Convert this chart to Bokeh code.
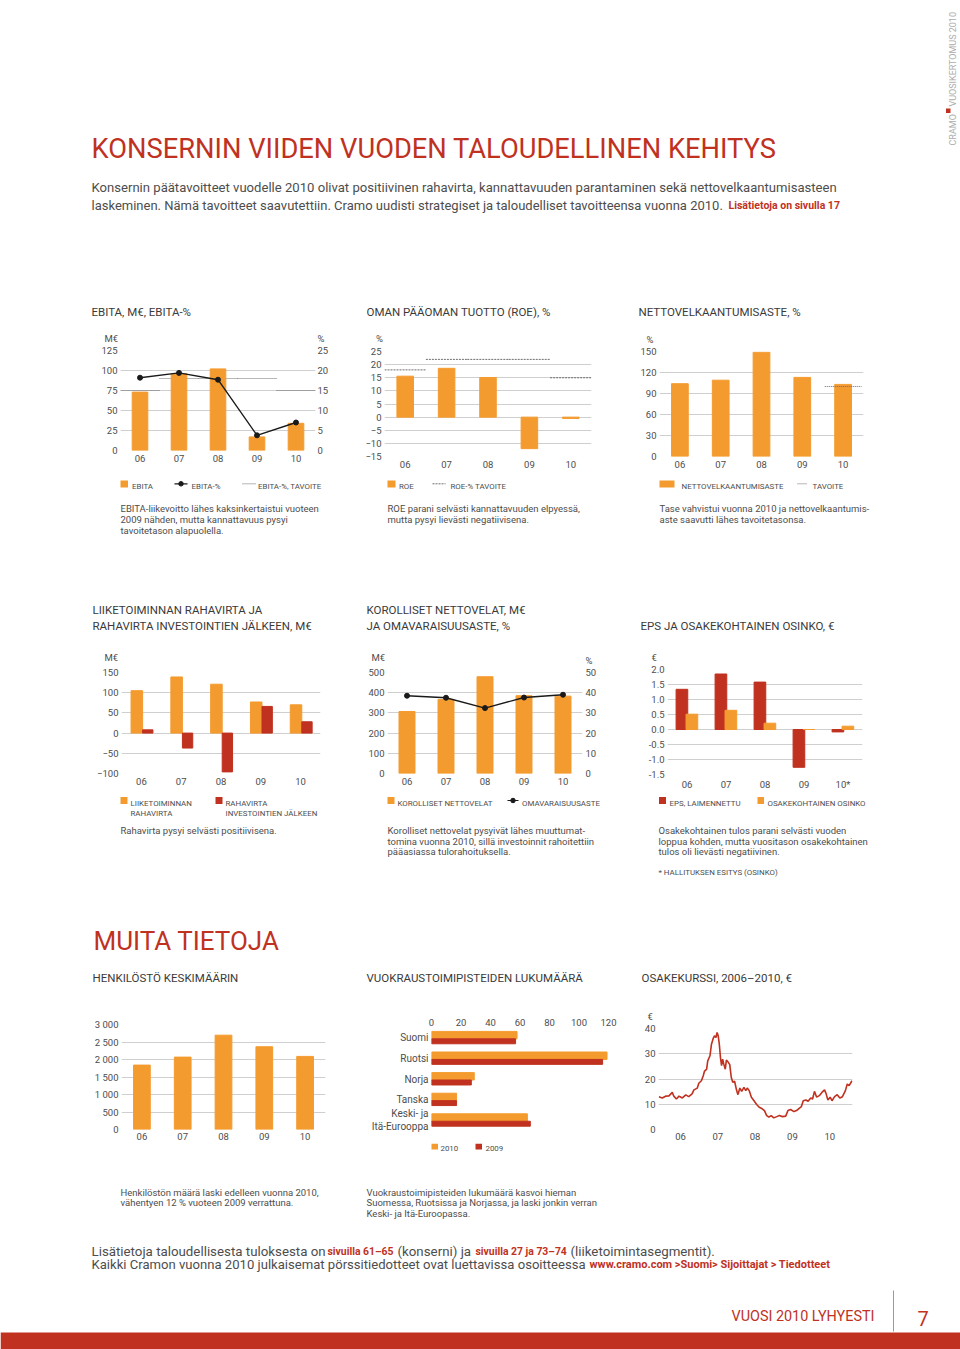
import math
from bokeh.plotting import figure
from bokeh.models import Range1d, LinearAxis, FixedTicker, Spacer
from bokeh.layouts import column, row
from bokeh.core.properties import value
from bokeh.embed import file_html
from bokeh.resources import INLINE

FONT = "Roboto"
ORANGE = "#f49b2f"
RED = "#c0311f"
GRID = "#cfcfcf"
TXT = "#4d4d4d"
HEAD = "#3a3a3a"
DOT = "#6e6e6e"
BLACK = "#1a1a1a"

# ---------------- data ----------------
year_labels = ["06", "07", "08", "09", "10"]
eps_year_labels = ["06", "07", "08", "09", "10*"]
ebita = [73, 96, 102, 17, 34]
ebita_pct = [18.2, 19.4, 17.7, 3.8, 7.0]
ebita_pct_target = [15, 18, 18, 18, 15]
roe = [15.6, 18.6, 15.1, -12.0, -0.5]
roe_target = [18, 22, 22, 22, 15]
gearing = [104, 109, 149, 113, 103]
gearing_target = [None, None, None, None, 100]
operating_cf = [105, 139, 121, 77, 70]
cf_after_investments = [8, -37, -96, 66, 28]
net_debt = [307, 366, 479, 385, 383]
equity_ratio = [38.5, 37.5, 32.4, 37.6, 39.0]
eps_diluted = [1.34, 1.85, 1.58, -1.26, -0.08]
dividend = [0.51, 0.64, 0.21, 0.0, 0.11]
personnel = [1840, 2068, 2695, 2365, 2088]
depot_regions = ["Suomi", "Ruotsi", "Norja", "Tanska", "Keski- ja\nItä-Eurooppa"]
depots_2010 = [58, 119, 29, 17, 65]
depots_2009 = [57, 116, 27, 17, 67]
share_year = [2005.92, 2006.01, 2006.10, 2006.19, 2006.28, 2006.32, 2006.39, 2006.46, 2006.55, 2006.64,
              2006.72, 2006.81, 2006.86, 2006.95, 2006.99, 2007.06, 2007.11, 2007.14, 2007.20, 2007.23,
              2007.29, 2007.33, 2007.38, 2007.41, 2007.45, 2007.48, 2007.51, 2007.54, 2007.57, 2007.60,
              2007.63, 2007.66, 2007.70, 2007.73, 2007.78, 2007.82, 2007.86, 2007.90, 2007.95, 2008.00,
              2008.04, 2008.09, 2008.14, 2008.20, 2008.25, 2008.29, 2008.34, 2008.40, 2008.47, 2008.54,
              2008.61, 2008.69, 2008.75, 2008.81, 2008.87, 2008.93, 2009.00, 2009.08, 2009.15, 2009.23,
              2009.32, 2009.38, 2009.45, 2009.54, 2009.61, 2009.68, 2009.74, 2009.79, 2009.86, 2009.92,
              2009.99, 2010.04, 2010.09, 2010.15, 2010.22, 2010.29, 2010.36, 2010.40, 2010.45, 2010.51,
              2010.56, 2010.63, 2010.70, 2010.77, 2010.84, 2010.92, 2010.97, 2011.02, 2011.08, 2011.10]
share_eur = [13.0, 12.5, 13.2, 13.3, 14.7, 13.2, 12.1, 13.2, 12.5, 13.7,
             13.0, 14.1, 15.7, 16.4, 18.3, 19.3, 21.3, 23.0, 23.9, 27.2,
             29.2, 33.8, 36.2, 37.1, 36.4, 38.4, 37.1, 33.8, 28.6, 25.3,
             27.9, 25.9, 23.9, 27.5, 26.6, 25.7, 20.7, 18.7, 19.1, 15.7,
             13.8, 16.4, 15.1, 16.7, 15.4, 16.4, 15.4, 12.8, 11.4, 9.9,
             8.8, 8.2, 7.5, 5.5, 4.9, 5.5, 4.6, 5.1, 5.5, 5.1,
             5.3, 7.5, 7.9, 7.1, 7.5, 8.4, 9.1, 11.4, 11.7, 11.2,
             12.5, 12.1, 15.1, 12.8, 13.4, 14.7, 15.7, 14.3, 11.7, 12.8,
             11.4, 13.0, 13.8, 12.5, 13.0, 15.4, 18.0, 17.4, 18.9, 19.3]
share_tick_years = [2006.5, 2007.5, 2008.5, 2009.5, 2010.5]

idx = list(range(len(year_labels)))

PAGE_W = 960
CAP = 9.5      # caption font
LEG = 7.9      # legend font
TTL = 11.5     # chart title font


# ---------------- helpers ----------------
def style_axis(ax, size="9.5px", standoff=3):
    ax.axis_line_color = None
    ax.major_tick_line_color = None
    ax.minor_tick_line_color = None
    ax.major_tick_out = 0
    ax.major_tick_in = 0
    ax.minor_tick_out = 0
    ax.minor_tick_in = 0
    ax.major_label_standoff = standoff
    ax.major_label_text_font = FONT
    ax.major_label_text_font_size = size
    ax.major_label_text_color = TXT


def chart(fig_box, frame_box, x_range, y_range, **kw):
    fx0, fy0, fx1, fy1 = fig_box
    x0, y0, x1, y1 = frame_box
    p = figure(width=fx1 - fx0, height=fy1 - fy0, x_range=x_range, y_range=y_range,
               toolbar_location=None, output_backend="svg", title=None,
               min_border_left=x0 - fx0, min_border_right=fx1 - x1,
               min_border_top=y0 - fy0, min_border_bottom=fy1 - y1, **kw)
    p.outline_line_color = None
    p.background_fill_color = "white"
    p.border_fill_color = "white"
    for ax in p.axis:
        style_axis(ax)
    p.xgrid.visible = False
    p.ygrid.grid_line_color = GRID
    return p


def set_y_ticks(p, ticks, overrides=None):
    t = FixedTicker(ticks=ticks)
    p.yaxis.ticker = t
    p.ygrid.ticker = t
    if overrides:
        p.yaxis.major_label_overrides = overrides


def set_cat_x(p, labels, standoff=4):
    p.xaxis.ticker = FixedTicker(ticks=list(range(len(labels))))
    p.xaxis.major_label_overrides = {i: s for i, s in enumerate(labels)}
    p.xaxis.major_label_standoff = standoff


class Band:
    """A text-only figure whose data coordinates are page pixels."""
    def __init__(self, x0, top, w, h):
        self.x0, self.top = x0, top
        p = figure(width=w, height=h, x_range=Range1d(0, w), y_range=Range1d(h, 0),
                   toolbar_location=None, output_backend="svg", title=None,
                   x_axis_type=None, y_axis_type=None, min_border=0)
        p.outline_line_color = None
        p.background_fill_color = "white"
        p.border_fill_color = "white"
        self.p = p

    def t(self, x, y, s, size, color, bold=False, align="left", angle=0.0):
        self.p.text(x=[x - self.x0], y=[y - self.top], text=[s], text_font=value(FONT),
                    text_font_size=f"{size}px", text_color=color, text_align=align,
                    text_baseline="alphabetic", text_font_style="bold" if bold else "normal",
                    angle=angle)

    def box(self, x0, x1, y0, y1, color):
        self.p.quad(left=[x0 - self.x0], right=[x1 - self.x0], top=[y0 - self.top],
                    bottom=[y1 - self.top], fill_color=color, line_color=None)

    def hline(self, x0, x1, y, color, width=1.0, dash="solid"):
        self.p.line([x0 - self.x0, x1 - self.x0], [y - self.top, y - self.top],
                    line_color=color, line_width=width, line_dash=dash)

    def vline(self, x, y0, y1, color, width=1.0):
        self.p.line([x - self.x0, x - self.x0], [y0 - self.top, y1 - self.top],
                    line_color=color, line_width=width)

    def dot(self, x, y, size, color):
        self.p.scatter([x - self.x0], [y - self.top], size=size, color=color)


def iso(item):
    # wrap a figure/layout in its own column so that rows do not align plot frames
    return column([item], spacing=0)


def chart_row(h, items):
    children = []
    x = 0
    for left, fig, w in items:
        if left > x:
            children.append(Spacer(width=left - x, height=h))
        children.append(fig)
        x = left + w
    if x < PAGE_W:
        children.append(Spacer(width=PAGE_W - x, height=h))
    return row(children, spacing=0)


# ---------------- bands (page y) ----------------
H_TOP, H_H = 0, 344
C1_TOP, C1_H = 344, 130
T1_TOP, T1_H = 474, 190
C2_TOP, C2_H = 664, 128
T2_TOP, T2_H = 792, 208
C3_TOP, C3_H = 1000, 143
U3_H = 22
T3_TOP, T3_H = 1143, 206

# ---------------- header ----------------
hb = Band(0, H_TOP, PAGE_W, H_H)
hb.t(91, 148, "KONSERNIN VIIDEN VUODEN TALOUDELLINEN KEHITYS", 27.3, RED)
hb.t(91, 187, "Konsernin päätavoitteet vuodelle 2010 olivat positiivinen rahavirta, kannattavuuden parantaminen sekä nettovelkaantumisasteen", 13.1, TXT)
hb.t(91, 205, "laskeminen. Nämä tavoitteet saavutettiin. Cramo uudisti strategiset ja taloudelliset tavoitteensa vuonna 2010.", 13.0, TXT)
hb.t(728, 205, "Lisätietoja on sivulla 17", 10.5, RED, bold=True)
hb.t(952, 145, "CRAMO", 9, "#ababab", angle=math.pi / 2)
hb.box(945.5, 950, 108, 112.5, RED)
hb.t(952, 106, "VUOSIKERTOMUS 2010", 9, "#ababab", angle=math.pi / 2)
hb.t(91, 311, "EBITA, M€, EBITA-%", TTL, HEAD)
hb.t(366, 311, "OMAN PÄÄOMAN TUOTTO (ROE), %", TTL, HEAD)
hb.t(638, 311, "NETTOVELKAANTUMISASTE, %", TTL, HEAD)
hb.t(104, 338.4, "M€", 9.5, TXT)
hb.t(317, 338.4, "%", 9.5, TXT)
hb.t(375.5, 338.4, "%", 9.5, TXT)
hb.t(646, 339, "%", 9.5, TXT)

# ---------------- chart 1: EBITA ----------------
fb1, fr1 = (90, C1_TOP, 340, C1_TOP + C1_H), (120, 350, 315, 450)
p1 = chart(fb1, fr1, Range1d(-0.5, 4.5), Range1d(0, 125))
p1.extra_y_ranges = {"pct": Range1d(0, 25)}
set_y_ticks(p1, [0, 25, 50, 75, 100, 125])
set_cat_x(p1, year_labels)
p1.segment(x0=[i - 0.5 for i in idx], x1=[i + 0.5 for i in idx], y0=ebita_pct_target,
           y1=ebita_pct_target, y_range_name="pct", line_color=DOT, line_dash="1 1", line_width=1)
p1.vbar(x=idx, top=ebita, width=0.4, color=ORANGE)
p1.line(idx, ebita_pct, y_range_name="pct", line_color=BLACK, line_width=1.4)
p1.scatter(idx, ebita_pct, y_range_name="pct", size=5, color=BLACK)
ax1 = LinearAxis(y_range_name="pct", ticker=FixedTicker(ticks=[0, 5, 10, 15, 20, 25]))
style_axis(ax1, standoff=2)
p1.add_layout(ax1, "right")

# ---------------- chart 2: ROE ----------------
fb2, fr2 = (355, C1_TOP, 615, C1_TOP + C1_H), (384, 351, 591, 456)
p2 = chart(fb2, fr2, Range1d(-0.5, 4.5), Range1d(-15, 25))
set_y_ticks(p2, [-15, -10, -5, 0, 5, 10, 15, 20, 25])
set_cat_x(p2, year_labels)
p2.vbar(x=idx, top=roe, width=0.4, color=ORANGE)
p2.segment(x0=[i - 0.5 for i in idx], x1=[i + 0.5 for i in idx], y0=roe_target,
           y1=roe_target, line_color=DOT, line_dash="2 1", line_width=1)

# ---------------- chart 3: gearing ----------------
fb3, fr3 = (630, C1_TOP, 880, C1_TOP + C1_H), (659, 351, 863, 456)
p3 = chart(fb3, fr3, Range1d(-0.5, 4.5), Range1d(0, 150))
set_y_ticks(p3, [0, 30, 60, 90, 120, 150])
set_cat_x(p3, year_labels)
p3.vbar(x=idx, top=gearing, width=0.41, color=ORANGE)
gt = [(i, v) for i, v in zip(idx, gearing_target) if v is not None]
p3.segment(x0=[i - 0.45 for i, v in gt], x1=[i + 0.45 for i, v in gt], y0=[v for i, v in gt],
           y1=[v for i, v in gt], line_color=DOT, line_dash="1 1", line_width=1)

# ---------------- row 2 charts ----------------
fb4, fr4 = (90, C2_TOP, 340, C2_TOP + C2_H), (121, 672, 320, 773)
p4 = chart(fb4, fr4, Range1d(-0.5, 4.5), Range1d(-100, 150))
set_y_ticks(p4, [-100, -50, 0, 50, 100, 150])
set_cat_x(p4, year_labels)
p4.vbar(x=[i - 0.115 for i in idx], top=operating_cf, width=0.29, color=ORANGE)
p4.vbar(x=[i + 0.16 for i in idx], top=cf_after_investments, width=0.26, color=RED)

fb5, fr5 = (355, C2_TOP, 615, C2_TOP + C2_H), (387, 672, 582, 773)
p5 = chart(fb5, fr5, Range1d(-0.5, 4.5), Range1d(0, 500))
p5.extra_y_ranges = {"pct": Range1d(0, 50)}
set_y_ticks(p5, [0, 100, 200, 300, 400, 500])
set_cat_x(p5, year_labels)
p5.vbar(x=idx, top=net_debt, width=0.41, color=ORANGE)
p5.line(idx, equity_ratio, y_range_name="pct", line_color=BLACK, line_width=1.4)
p5.scatter(idx, equity_ratio, y_range_name="pct", size=5, color=BLACK)
ax5 = LinearAxis(y_range_name="pct", ticker=FixedTicker(ticks=[0, 10, 20, 30, 40, 50]))
style_axis(ax5, standoff=3)
p5.add_layout(ax5, "right")

fb6, fr6 = (630, C2_TOP, 880, C2_TOP + C2_H), (667, 669, 862, 775)
p6 = chart(fb6, fr6, Range1d(-0.5, 4.5), Range1d(-1.5, 2.0))
set_y_ticks(p6, [-1.5, -1.0, -0.5, 0.0, 0.5, 1.0, 1.5, 2.0],
            {-1.5: "-1.5", -1.0: "-1.0", -0.5: "-0.5", 0.0: "0.0", 0.5: "0.5", 1.0: "1.0", 1.5: "1.5", 2.0: "2.0"})
set_cat_x(p6, eps_year_labels)
p6.vbar(x=[i - 0.13 for i in idx], top=eps_diluted, width=0.30, color=RED)
p6.vbar(x=[i + 0.125 for i in idx], top=dividend, width=0.30, color=ORANGE)

# ---------------- row 3 charts ----------------
fb7, fr7 = (85, C3_TOP, 340, C3_TOP + C3_H), (121, 1024, 325, 1129)
p7 = chart(fb7, fr7, Range1d(-0.5, 4.5), Range1d(0, 3000))
set_y_ticks(p7, [0, 500, 1000, 1500, 2000, 2500, 3000],
            {0: "0", 500: "500", 1000: "1 000", 1500: "1 500", 2000: "2 000", 2500: "2 500", 3000: "3 000"})
set_cat_x(p7, year_labels, standoff=3)
p7.vbar(x=idx, top=personnel, width=0.41, color=ORANGE)

fb8, fr8 = (355, C3_TOP, 625, C3_TOP + C3_H), (431, 1027, 608, 1130)
p8 = chart(fb8, fr8, Range1d(0, 120), Range1d(4.5, -0.5), x_axis_location="above")
p8.ygrid.visible = False
p8.xgrid.visible = True
p8.xgrid.grid_line_color = GRID
p8.xaxis.ticker = FixedTicker(ticks=[0, 20, 40, 60, 80, 100, 120])
p8.xgrid.ticker = FixedTicker(ticks=[120])
p8.xaxis.major_label_standoff = 2
p8.yaxis.ticker = FixedTicker(ticks=list(range(len(depot_regions))))
p8.yaxis.major_label_overrides = {i: s for i, s in enumerate(depot_regions)}
p8.yaxis.major_label_text_font_size = "10px"
p8.hbar(y=[i - 0.13 for i in range(len(depot_regions))], right=depots_2010, left=0, height=0.36, color=ORANGE)
p8.hbar(y=[i + 0.17 for i in range(len(depot_regions))], right=depots_2009, left=0, height=0.24, color=RED)

CT3 = C3_TOP + U3_H
fb9, fr9 = (630, CT3, 880, C3_TOP + C3_H), (658, 1028, 852, 1129)
p9 = chart(fb9, fr9, Range1d(2005.91, 2011.11), Range1d(0, 40))
set_y_ticks(p9, [0, 10, 20, 30, 40])
p9.xaxis.ticker = FixedTicker(ticks=share_tick_years)
p9.xaxis.major_label_overrides = {y: s for y, s in zip(share_tick_years, year_labels)}
p9.xaxis.major_label_standoff = 3
p9.line(share_year, share_eur, line_color=RED, line_width=1.6)
u9 = Band(630, C3_TOP, 250, U3_H)
u9.t(647, 1015.5, "€", 9.5, TXT)

# ---------------- text band 1 (incl. row-2 unit labels) ----------------
t1 = Band(0, T1_TOP, PAGE_W, T1_H)
ly = 483.3
lb = ly + 2.8
t1.box(120, 127.5, 480, 487, ORANGE)
t1.t(131.5, lb, "EBITA", LEG, TXT)
t1.hline(174, 187, ly, BLACK, 1.2)
t1.dot(180.5, ly, 4.5, BLACK)
t1.t(191, lb, "EBITA-%", LEG, TXT)
t1.hline(242, 255, ly, DOT, 1, "1 1")
t1.t(257.5, lb, "EBITA-%, TAVOITE", LEG, TXT)
t1.box(387, 395, 480, 487, ORANGE)
t1.t(398.5, lb, "ROE", LEG, TXT)
t1.hline(432, 445, ly, DOT, 1, "2 1")
t1.t(450, lb, "ROE-% TAVOITE", LEG, TXT)
t1.box(659, 674, 480, 487, ORANGE)
t1.t(681, lb, "NETTOVELKAANTUMISASTE", LEG, TXT)
t1.hline(797, 807, ly, DOT, 1, "1 1")
t1.t(812, lb, "TAVOITE", LEG, TXT)
cap_y = [508.3, 519.0, 529.7]
for k, s in enumerate(["EBITA-liikevoitto lähes kaksinkertaistui vuoteen",
                       "2009 nähden, mutta kannattavuus pysyi",
                       "tavoitetason alapuolella."]):
    t1.t(120, cap_y[k], s, CAP, TXT)
for k, s in enumerate(["ROE parani selvästi kannattavuuden elpyessä,",
                       "mutta pysyi lievästi negatiivisena."]):
    t1.t(387, cap_y[k], s, CAP, TXT)
for k, s in enumerate(["Tase vahvistui vuonna 2010 ja nettovelkaantumis-",
                       "aste saavutti lähes tavoitetasonsa."]):
    t1.t(659, cap_y[k], s, CAP, TXT)
t1.t(92, 609, "LIIKETOIMINNAN RAHAVIRTA JA", TTL, HEAD)
t1.t(92, 625, "RAHAVIRTA INVESTOINTIEN JÄLKEEN, M€", TTL, HEAD)
t1.t(366, 609, "KOROLLISET NETTOVELAT, M€", TTL, HEAD)
t1.t(366, 625, "JA OMAVARAISUUSASTE, %", TTL, HEAD)
t1.t(640, 625, "EPS JA OSAKEKOHTAINEN OSINKO, €", TTL, HEAD)
t1.t(104, 656.5, "M€", 9.5, TXT)
t1.t(371, 656.5, "M€", 9.5, TXT)
t1.t(585, 659.5, "%", 9.5, TXT)
t1.t(651, 656.5, "€", 9.5, TXT)

# ---------------- text band 2 ----------------
t2 = Band(0, T2_TOP, PAGE_W, T2_H)
t2.box(120, 127, 796.5, 803.5, ORANGE)
t2.t(130, 802.5, "LIIKETOIMINNAN", LEG, TXT)
t2.t(130, 812.5, "RAHAVIRTA", LEG, TXT)
t2.box(215, 222, 796.5, 803.5, RED)
t2.t(225, 802.5, "RAHAVIRTA", LEG, TXT)
t2.t(225, 812.5, "INVESTOINTIEN JÄLKEEN", LEG, TXT)
t2.box(387, 394, 796.5, 803.5, ORANGE)
t2.t(397, 802.8, "KOROLLISET NETTOVELAT", LEG, TXT)
t2.hline(507, 518, 800, BLACK, 1.2)
t2.dot(512.5, 800, 4.5, BLACK)
t2.t(521.5, 802.8, "OMAVARAISUUSASTE", LEG, TXT)
t2.box(658.5, 665.5, 796.5, 803.5, RED)
t2.t(669, 802.8, "EPS, LAIMENNETTU", LEG, TXT)
t2.box(757, 763.5, 796.5, 803.5, ORANGE)
t2.t(767, 802.8, "OSAKEKOHTAINEN OSINKO", LEG, TXT)
cap2 = [830.0, 840.7, 851.4]
t2.t(120, cap2[0], "Rahavirta pysyi selvästi positiivisena.", CAP, TXT)
for k, s in enumerate(["Korolliset nettovelat pysyivät lähes muuttumat-",
                       "tomina vuonna 2010, sillä investoinnit rahoitettiin",
                       "pääasiassa tulorahoituksella."]):
    t2.t(387, cap2[k], s, CAP, TXT)
for k, s in enumerate(["Osakekohtainen tulos parani selvästi vuoden",
                       "loppua kohden, mutta vuositason osakekohtainen",
                       "tulos oli lievästi negatiivinen."]):
    t2.t(658, cap2[k], s, CAP, TXT)
t2.t(658, 871.8, "* HALLITUKSEN ESITYS (OSINKO)", LEG, TXT)
t2.t(93, 940, "MUITA TIETOJA", 26, RED)
t2.t(92, 977, "HENKILÖSTÖ KESKIMÄÄRIN", TTL, HEAD)
t2.t(366, 977, "VUOKRAUSTOIMIPISTEIDEN LUKUMÄÄRÄ", TTL, HEAD)
t2.t(641, 977, "OSAKEKURSSI, 2006–2010, €", TTL, HEAD)

# ---------------- text band 3 ----------------
t3 = Band(0, T3_TOP, PAGE_W, T3_H)
t3.box(431, 437.5, 1143, 1149, ORANGE)
t3.t(440, 1148.2, "2010", LEG, TXT)
t3.box(475, 481.5, 1143, 1149, RED)
t3.t(485, 1148.2, "2009", LEG, TXT)
cap3 = [1191.6, 1202.3, 1213.0]
for k, s in enumerate(["Henkilöstön määrä laski edelleen vuonna 2010,",
                       "vähentyen 12 % vuoteen 2009 verrattuna."]):
    t3.t(120, cap3[k], s, CAP, TXT)
for k, s in enumerate(["Vuokraustoimipisteiden lukumäärä kasvoi hieman",
                       "Suomessa, Ruotsissa ja Norjassa, ja laski jonkin verran",
                       "Keski- ja Itä-Euroopassa."]):
    t3.t(366, cap3[k], s, CAP, TXT)
t3.t(91, 1250.5, "Lisätietoja taloudellisesta tuloksesta on", 13.3, TXT)
t3.t(327, 1250.5, "sivuilla 61–65", 10.4, RED, bold=True)
t3.t(397, 1250.5, "(konserni) ja", 13.3, TXT)
t3.t(475, 1250.5, "sivuilla 27 ja 73–74", 10.4, RED, bold=True)
t3.t(570, 1250.5, "(liiketoimintasegmentit).", 13.3, TXT)
t3.t(91, 1263.5, "Kaikki Cramon vuonna 2010 julkaisemat pörssitiedotteet ovat luettavissa osoitteessa", 13.1, TXT)
t3.t(589, 1263.5, "www.cramo.com >Suomi> Sijoittajat > Tiedotteet", 11, RED, bold=True)
t3.t(731, 1316, "VUOSI 2010 LYHYESTI", 14.4, RED)
t3.vline(893, 1290, 1331, "#9a9a9a", 1)
t3.t(917, 1317.5, "7", 20, RED)
t3.box(0, 960, 1332, 1349, RED)

# ---------------- assemble ----------------
row1 = chart_row(C1_H, [(90, iso(p1), 250), (355, iso(p2), 260), (630, iso(p3), 250)])
row2 = chart_row(C2_H, [(90, iso(p4), 250), (355, iso(p5), 260), (630, iso(p6), 250)])
cell9 = column([row([u9.p], spacing=0), row([p9], spacing=0)], spacing=0)
row3 = chart_row(C3_H, [(85, iso(p7), 255), (355, iso(p8), 270), (630, cell9, 250)])
page = column([hb.p, row1, t1.p, row2, t2.p, row3, t3.p], spacing=0)

open("out.html", "w").write(file_html(page, INLINE))
